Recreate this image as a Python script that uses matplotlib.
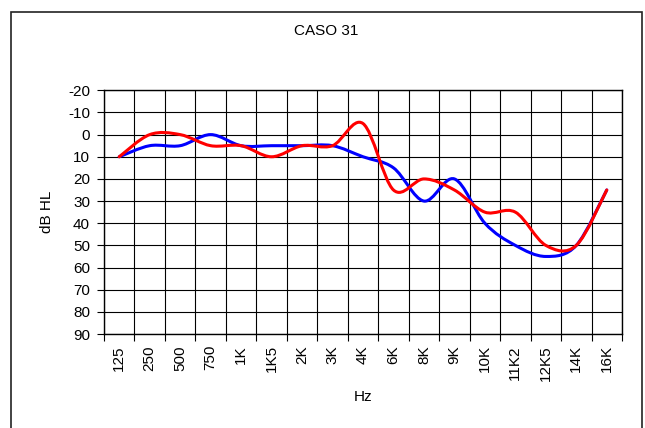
import matplotlib
matplotlib.use("Agg")
import matplotlib.pyplot as plt
from matplotlib.path import Path
from matplotlib.patches import PathPatch, Rectangle

plt.rcParams["font.family"] = ["Liberation Sans", "DejaVu Sans"]
plt.rcParams["axes.unicode_minus"] = False

# -----------------------------------------
# data (dB HL per frequency)
# -----------------------------------------
freqs = ["125", "250", "500", "750", "1K", "1K5", "2K", "3K", "4K",
         "6K", "8K", "9K", "10K", "11K2", "12K5", "14K", "16K"]
blue_db = [10, 5, 5, 0, 5, 5, 5, 5, 10, 15, 30, 20, 40, 50, 55, 50, 25]
red_db = [10, 0, 0, 5, 5, 10, 5, 5, -5, 25, 20, 25, 35, 35, 50, 50, 25]
y_ticks = list(range(-20, 91, 10))


def smooth_path(xs, ys):
    # excel style smoothed line: cubic bezier through every point
    pts = list(zip(xs, ys))
    n = len(pts)
    verts = [pts[0]]
    codes = [Path.MOVETO]
    for i in range(n - 1):
        p0 = pts[max(i - 1, 0)]
        p1 = pts[i]
        p2 = pts[i + 1]
        p3 = pts[min(i + 2, n - 1)]
        c1 = (p1[0] + (p2[0] - p0[0]) / 6, p1[1] + (p2[1] - p0[1]) / 6)
        c2 = (p2[0] - (p3[0] - p1[0]) / 6, p2[1] - (p3[1] - p1[1]) / 6)
        verts += [c1, c2, p2]
        codes += [Path.CURVE4] * 3
    return Path(verts, codes)


fig = plt.figure(figsize=(6.45, 4.28), dpi=100)
ax = fig.add_axes([104 / 645, 94 / 428, 518 / 645, 243.7 / 428])

# outer chart frame
fig.patches.append(Rectangle((11 / 645, -0.05), 631 / 645, 1.05 - 12 / 428,
                             transform=fig.transFigure, fill=False,
                             edgecolor="#222222", linewidth=1.2))

centers = [i + 0.5 for i in range(len(freqs))]
for vals, col in [(blue_db, "#0000ff"), (red_db, "#ff0000")]:
    ax.add_patch(PathPatch(smooth_path(centers, vals), fill=False,
                           edgecolor=col, linewidth=2.2, zorder=3,
                           capstyle="round", joinstyle="round"))

ax.set_xlim(0, len(freqs))
ax.set_ylim(90, -20)

ax.set_xticks(range(len(freqs) + 1))
ax.set_xticklabels([])
ax.set_xticks(centers, minor=True)
ax.set_xticklabels(freqs, minor=True, rotation=90)
ax.tick_params(axis="x", which="major", direction="out", length=5, width=0.8)
ax.tick_params(axis="x", which="minor", length=0, pad=8, labelsize=11)
ax.set_yticks(y_ticks)
ax.tick_params(axis="y", direction="out", length=5, width=0.8, labelsize=11, pad=5)

ax.grid(True, which="major", color="black", linewidth=0.8)
ax.set_axisbelow(True)
for s in ax.spines.values():
    s.set_linewidth(1.0)

fig.text(326.5 / 645, 1 - 31 / 428, "CASO 31", ha="center", va="center", fontsize=11)
fig.text(363 / 645, 1 - 397 / 428, "Hz", ha="center", va="center", fontsize=11)
fig.text(47 / 645, 1 - 212 / 428, "dB HL", ha="center", va="center",
         rotation=90, fontsize=11)

fig.savefig("out.png", dpi=100)
